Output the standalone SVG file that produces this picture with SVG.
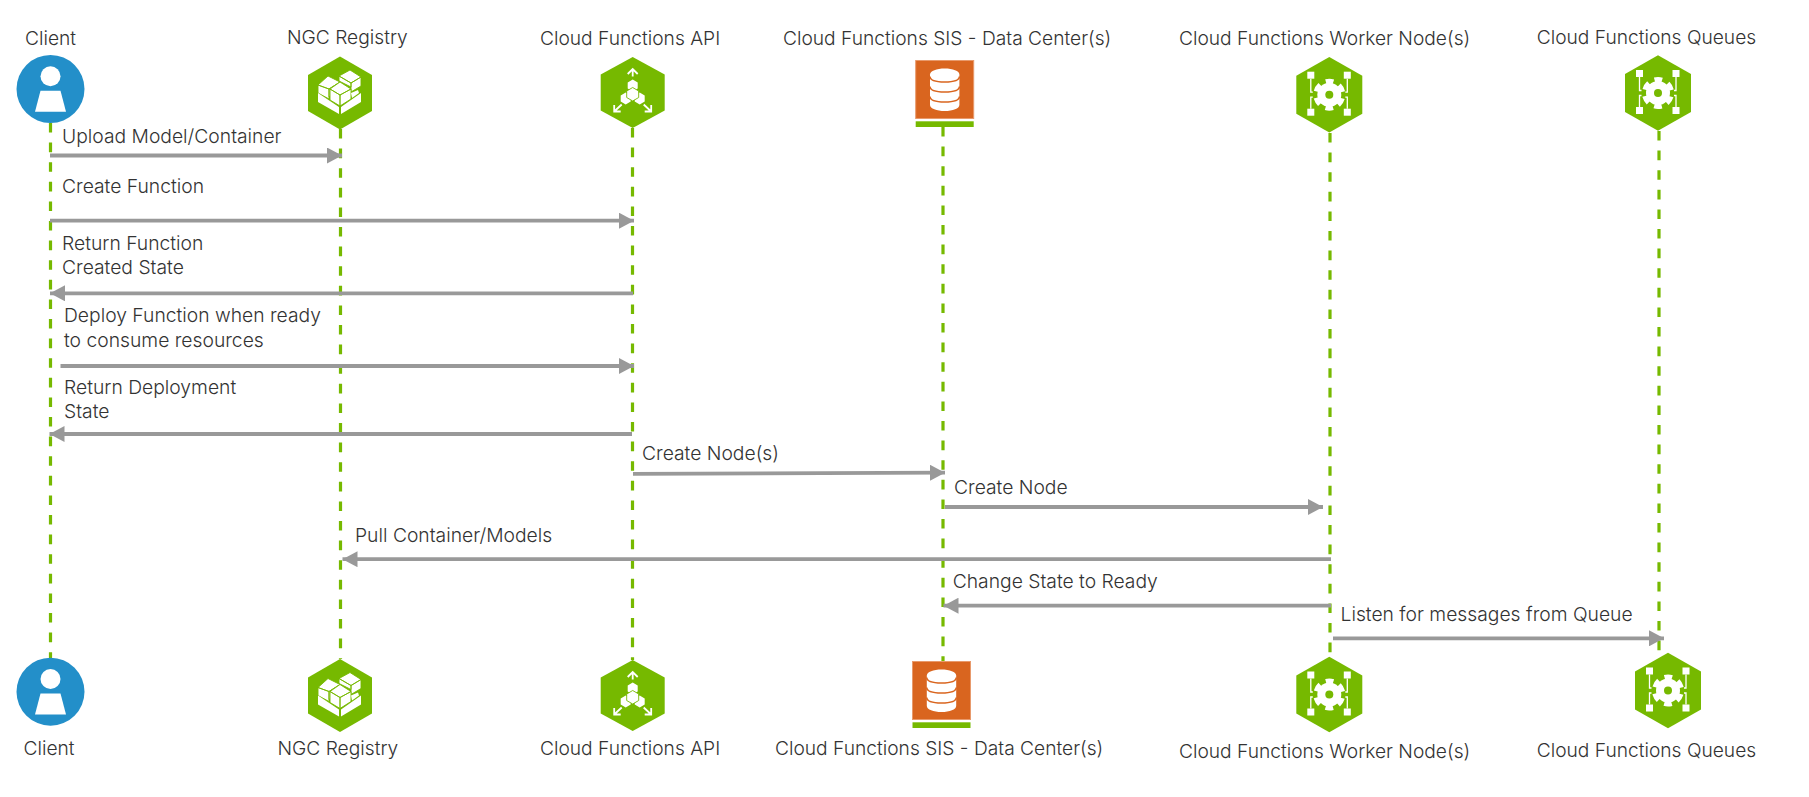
<svg xmlns="http://www.w3.org/2000/svg" width="1809" height="797" viewBox="0 0 1809 797">
<style>
text{font-family:"Inter","Noto Sans",sans-serif;font-size:19.3px;font-weight:300;fill:#333}
.hd{font-size:19.2px}
.life{fill:none;stroke:#76b900;stroke-width:3.2;stroke-dasharray:9.6 10}
.msg{fill:none;stroke:#999;stroke-width:3.8;marker-end:url(#ah)}
.hex{fill:#76b900}
.w{fill:#fff}
.bl{fill:#fff;stroke:#76b900;stroke-width:0.9}
.wl{fill:none;stroke:#fff;stroke-width:1.3}
</style>
<defs>
<marker id="ah" markerUnits="userSpaceOnUse" markerWidth="16" markerHeight="16" refX="15" refY="8" orient="auto"><path d="M0 0L15 8L0 16Z" fill="#999"/></marker>
<g id="i-client">
<circle r="34" fill="#238fc9"/><circle cy="-12.700" r="10" class="w"/><path d="M-10 1.700H10L15.500 22.700H-15.500Z" class="w"/>
</g>
<g id="i-ngc">
<path d="M0-36.500L32-18V18L0 36.500L-32 18V-18Z" class="hex"/>
<path d="M-1-17L10-23L21-16L11-10Z M21-16V-7L11-1V-10Z M-1-17V-12L11-6V-10Z" class="bl"/>
<path d="M-22-8L-12-17L0-11L-11-4Z M-22-8V0L-11 6V-4Z M-11-4L0-11V-4L-11 4Z" class="bl"/>
<path d="M-10-4L0-11L11-4L0 2Z M-10-4L0 2V13L-10 7Z M0 2L11-4V6L0 13Z" class="bl"/>
<path d="M11 0L18-3L19 0L12 5Z" class="w"/>
<path d="M-22 0L-1 14V21L-22 9Z M1 14L21 0V9L1 21Z" class="w"/>
</g>
<g id="i-api">
<path d="M0-35.500L32-18V18L0 35.500L-32 18V-18Z" class="hex"/>
<path d="M0-16V-23M-5-18.500L0-23.500L5-18.500M-11 12L-18.500 19M-18.500 12.500V19H-12M11 12L18.500 19M18.500 12.500V19H12" fill="none" stroke="#fff" stroke-width="1.800"/>
<path d="M0-13L5-10V-4L0-1L-5-4V-10Z M-7 0L-2 3V9L-7 12L-12 9V3Z M7 0L12 3V9L7 12L2 9V3Z" class="w"/>
<path d="M0-5L6-1.500V5L0 8.500L-6 5V-1.500Z" class="bl"/>
</g>
<g id="i-sis">
<rect x="-29" y="-29" width="58" height="58" fill="#d9651f" stroke="#e89a6c"/>
<path d="M-14.700-15C-14.700-18.500-8-21 0-21S14.700-18.500 14.700-15V15.500C14.700 19 8 21.500 0 21.500S-14.700 19-14.700 15.500Z" class="w"/>
<path d="M-14.700-13C-14.700-9-8-7.500 0-7.500S14.700-9 14.700-13M-14.700-3C-14.700 1-8 2.500 0 2.500S14.700 1 14.700-3M-14.700 7C-14.700 11-8 12.500 0 12.500S14.700 11 14.700 7" fill="none" stroke="#d9651f" stroke-width="1.500"/>
<rect x="-29" y="31.800" width="58" height="5.700" fill="#76b900"/>
</g>
<g id="i-gear">
<path d="M0-37.700L33-19V19L0 37.700L-33 19V-19Z" class="hex"/>
<rect x="-22" y="-23" width="7" height="7" class="w"/><rect x="14.500" y="-23" width="7" height="7" class="w"/>
<rect x="-22" y="14" width="7" height="7" class="w"/><rect x="14.500" y="14" width="7" height="7" class="w"/>
<path d="M-18.500-16V-2.500H-16.500M-18.500 14V2.500H-16.500M18-16V-2.500H16M18 14V2.500H16" class="wl"/>
<circle r="12" class="w"/>
<circle r="13.500" fill="none" stroke="#fff" stroke-width="5" stroke-dasharray="7.600 6.537" transform="rotate(74)"/>
<circle r="4" class="hex"/>
</g>
</defs>
<g id="connectors">
<path class="life" d="M50.500 123V658"/>
<path class="life" d="M340.500 129V659"/>
<path class="life" d="M632.500 128V660"/>
<path class="life" d="M943 127V661"/>
<path class="life" d="M1330 133V657"/>
<path class="life" d="M1659 131V653"/>
<path class="msg" d="M50 155.500H342"/>
<path class="msg" d="M50 220.700H634"/>
<path class="msg" d="M633 293.300H50"/>
<path class="msg" d="M60.500 366H634"/>
<path class="msg" d="M632 434H49.500"/>
<path class="msg" d="M633 473.800L945 472.700"/>
<path class="msg" d="M945 507H1323"/>
<path class="msg" d="M1331 559.200H342.500"/>
<path class="msg" d="M1331 605.700H943.500"/>
<path class="msg" d="M1333 638.300H1664"/>
</g>
<g id="client-top"><use href="#i-client" x="50.500" y="89"/><text class="hd" x="25" y="45">Client</text></g>
<g id="ngc-top"><use href="#i-ngc" x="340" y="93"/><text class="hd" x="287" y="44">NGC Registry</text></g>
<g id="api-top"><use href="#i-api" x="632.700" y="92.500"/><text class="hd" x="540" y="44.700">Cloud Functions API</text></g>
<g id="sis-top"><use href="#i-sis" x="944.700" y="89.500"/><text class="hd" x="783" y="44.700">Cloud Functions SIS - Data Center(s)</text></g>
<g id="worker-top"><use href="#i-gear" x="1329.300" y="94.700"/><text class="hd" x="1179" y="45">Cloud Functions Worker Node(s)</text></g>
<g id="queues-top"><use href="#i-gear" x="1658" y="93"/><text class="hd" x="1536.700" y="44">Cloud Functions Queues</text></g>
<g id="client-bottom"><use href="#i-client" x="50.500" y="691.700"/><text class="hd" x="23.500" y="755">Client</text></g>
<g id="ngc-bottom"><use href="#i-ngc" x="340" y="695.500"/><text class="hd" x="277.500" y="755">NGC Registry</text></g>
<g id="api-bottom"><use href="#i-api" x="632.700" y="695.500"/><text class="hd" x="540" y="755">Cloud Functions API</text></g>
<g id="sis-bottom"><use href="#i-sis" x="941.500" y="690.500"/><text class="hd" x="775" y="755">Cloud Functions SIS - Data Center(s)</text></g>
<g id="worker-bottom"><use href="#i-gear" x="1329.300" y="694.500"/><text class="hd" x="1179" y="757.700">Cloud Functions Worker Node(s)</text></g>
<g id="queues-bottom"><use href="#i-gear" x="1668" y="690.500"/><text class="hd" x="1536.700" y="756.700">Cloud Functions Queues</text></g>
<g id="labels">
<text x="62" y="143.300">Upload Model/Container</text>
<text x="62" y="193.300">Create Function</text>
<text x="62" y="250.300">Return Function</text>
<text x="62" y="274.300">Created State</text>
<text x="64" y="322.300">Deploy Function when ready</text>
<text x="64" y="347.300">to consume resources</text>
<text x="64" y="394.300">Return Deployment</text>
<text x="64" y="418.300">State</text>
<text x="642" y="460">Create Node(s)</text>
<text x="954" y="494">Create Node</text>
<text x="355" y="541.500">Pull Container/Models</text>
<text x="952.700" y="587.500">Change State to Ready</text>
<text x="1340.500" y="620.700">Listen for messages from Queue</text>
</g>
</svg>
